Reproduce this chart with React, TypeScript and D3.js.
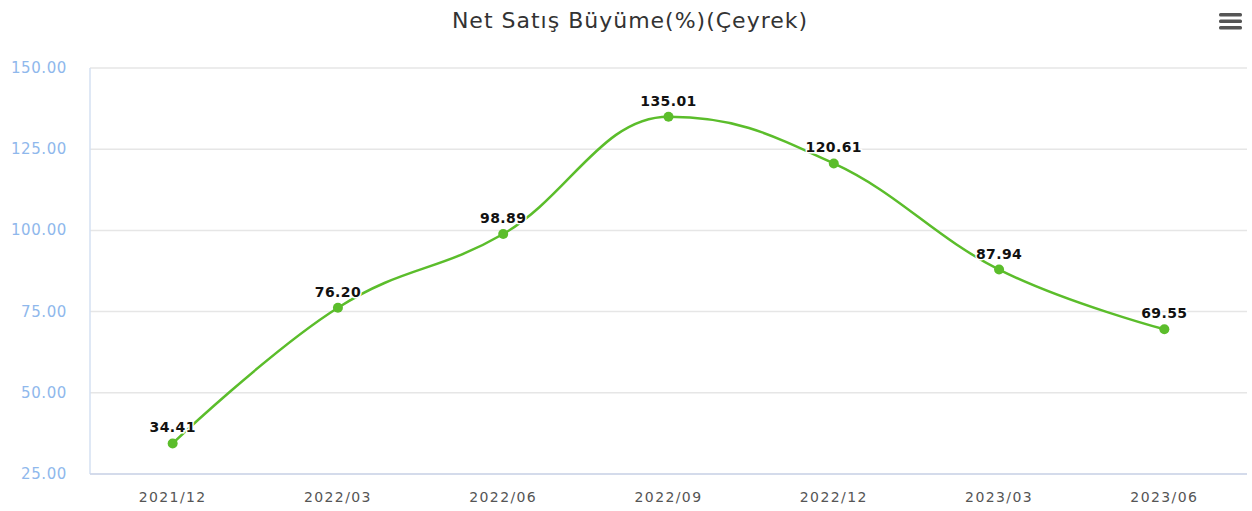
import React from "react";
import * as d3 from "d3";

const categories = ["2021/12", "2022/03", "2022/06", "2022/09", "2022/12", "2023/03", "2023/06"];
const values = [34.41, 76.2, 98.89, 135.01, 120.61, 87.94, 69.55];
const yTicks = [25, 50, 75, 100, 125, 150];
const title = "Net Satış Büyüme(%)(Çeyrek)";

const W = 1252;
const H = 511;
const M = { left: 90, right: 5, top: 68, bottom: 37 };

function splinePath(pts: [number, number][]) {
  const smoothing = 1.5;
  const denom = smoothing + 1;
  const p = d3.path();
  const rc: ({ x: number; y: number } | null)[] = pts.map(() => null);
  pts.forEach(([x, y], i) => {
    if (i === 0) {
      p.moveTo(x, y);
      return;
    }
    let lcx = x, lcy = y;
    const [lx, ly] = pts[i - 1];
    if (i < pts.length - 1) {
      const [nx, ny] = pts[i + 1];
      lcx = (smoothing * x + lx) / denom;
      lcy = (smoothing * y + ly) / denom;
      const rcx = (smoothing * x + nx) / denom;
      let rcy = (smoothing * y + ny) / denom;
      let corr = 0;
      if (rcx !== lcx) corr = ((rcy - lcy) * (rcx - x)) / (rcx - lcx) + y - rcy;
      lcy += corr;
      rcy += corr;
      if (lcy > ly && lcy > y) { lcy = Math.max(ly, y); rcy = 2 * y - lcy; }
      else if (lcy < ly && lcy < y) { lcy = Math.min(ly, y); rcy = 2 * y - lcy; }
      if (rcy > ny && rcy > y) { rcy = Math.max(ny, y); lcy = 2 * y - rcy; }
      else if (rcy < ny && rcy < y) { rcy = Math.min(ny, y); lcy = 2 * y - rcy; }
      rc[i] = { x: rcx, y: rcy };
    }
    const prev = rc[i - 1];
    p.bezierCurveTo(prev ? prev.x : lx, prev ? prev.y : ly, lcx, lcy, x, y);
  });
  return p.toString();
}

export default function App() {
  const x = d3.scaleBand<string>().domain(categories).range([M.left, W - M.right]);
  const y = d3.scaleLinear().domain([25, 150]).range([H - M.bottom, M.top]);
  const pts: [number, number][] = values.map((v, i) => [x(categories[i])! + x.bandwidth() / 2, y(v)]);
  const green = "#5bbd2b";
  const font = "'DejaVu Sans', Verdana, sans-serif";
  return (
    <svg width={W} height={H} style={{ position: "absolute", left: 0, top: 0, background: "#fff" }}>
      <text x={630} y={28} textAnchor="middle" fontFamily={font} fontSize={22} letterSpacing={1} fill="#333">{title}</text>
      <g fill="#555">
        {[0, 1, 2].map((i) => (
          <rect key={i} x={1219} y={13 + i * 6.5} width={23} height={3.5} rx={1.5} fill="#555" />
        ))}
      </g>
      {yTicks.map((t) => (
        <g key={t}>
          <line x1={M.left} x2={W - M.right} y1={y(t)} y2={y(t)} stroke="#e6e6e6" strokeWidth={1.5} />
          <text x={67} y={y(t) + 5} textAnchor="end" fontFamily={font} fontSize={15} letterSpacing={0.6} fill="#8fb8ec">{t.toFixed(2)}</text>
        </g>
      ))}
      <line x1={M.left} x2={M.left} y1={M.top} y2={H - M.bottom} stroke="#d5e0f2" strokeWidth={1.5} />
      <line x1={M.left} x2={W - M.right} y1={H - M.bottom} y2={H - M.bottom} stroke="#ccd6eb" strokeWidth={1.5} />
      {categories.map((c) => (
        <text key={c} x={x(c)! + x.bandwidth() / 2} y={H - 9} textAnchor="middle" fontFamily={font} fontSize={14} fill="#555" letterSpacing={1.4}>{c}</text>
      ))}
      <path d={splinePath(pts)} fill="none" stroke={green} strokeWidth={2.5} />
      {pts.map(([px, py], i) => (
        <g key={i}>
          <circle cx={px} cy={py} r={5} fill={green} />
          <text x={px} y={py - 11} textAnchor="middle" fontFamily={font} fontSize={14} fontWeight="bold" letterSpacing={0.4} fill="#111" stroke="#fff" strokeWidth={3} paintOrder="stroke">{values[i].toFixed(2)}</text>
        </g>
      ))}
    </svg>
  );
}
